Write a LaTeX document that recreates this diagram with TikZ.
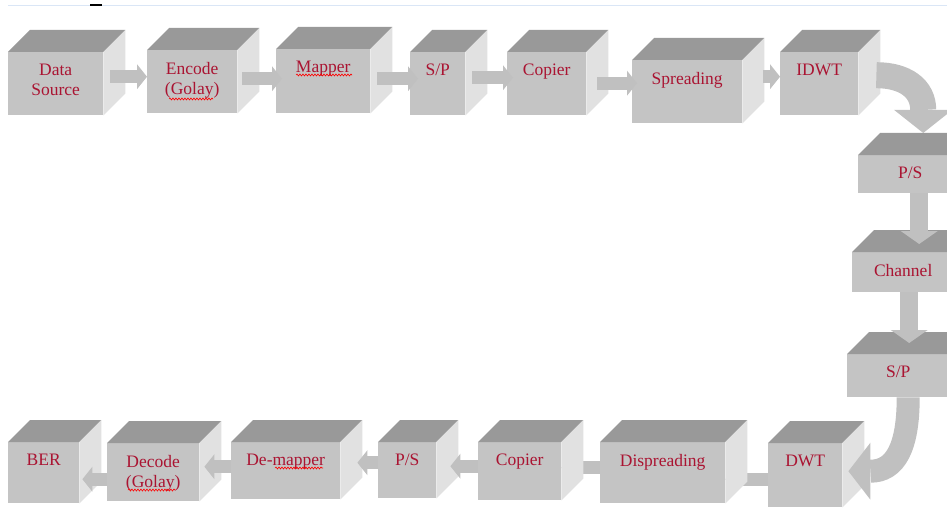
\documentclass[tikz,border=0pt]{standalone}
\usepackage{fontspec}
\setmainfont{Liberation Serif}
\usetikzlibrary{arrows.meta}
\usetikzlibrary{calc}
\usetikzlibrary{backgrounds}
\usetikzlibrary{decorations.pathmorphing}

\definecolor{frontgray}{RGB}{196,196,196}
\definecolor{topgray}{RGB}{153,153,153}
\definecolor{sidegray}{RGB}{225,225,225}
\definecolor{arrowgray}{RGB}{192,192,192}
\definecolor{txtred}{RGB}{170,20,50}
\definecolor{rulerblue}{RGB}{218,230,246}

\tikzset{
  cube/.style={fill=frontgray, anchor=north west, inner sep=0pt},
  toptxt/.style={anchor=north, inner sep=0pt, align=center, text=txtred,
    font=\fontsize{17.5}{20}\selectfont},
  flow/.style={draw=arrowgray, line width=13pt,
    -{Triangle[width=25pt,length=10pt,line width=0pt]}},
  vflow/.style={draw=arrowgray, line width=18pt,
    -{Triangle[width=37pt,length=13pt,line width=0pt]}},
  bigflow/.style={draw=arrowgray, line width=26pt,
    -{Triangle[width=58pt,length=23pt,line width=0pt]}},
  bendflow/.style={draw=arrowgray, line width=23pt,
    -{Triangle[width=57pt,length=22pt,line width=0pt]}},
  squiggle/.style={red, line width=0.6pt, decorate,
    decoration={snake, amplitude=1pt, segment length=3pt}}
}

\begin{document}
\begin{tikzpicture}[x=1pt, y=-1pt]
    \useasboundingbox (0,0) rectangle (947,508);
    % ruler line at the top of the page
    \draw [rulerblue, line width=1pt] (8,6) -- (947,6);
    \draw [line width=1.2pt] (90,5) -- (102,5);

    % every block: front face, then lid and side so it looks 3d
    \foreach \n/\x/\y/\w/\h/\txt in {
        ds/8/52/95/63/{Data\\Source},
        enc/147/50/90/63/{Encode\\(Golay)},
        map/276/49/94/64/{Mapper},
        sp1/410/52/55/63/{S/P},
        cop1/507/52/79/63/{Copier},
        spr/632/60/110/63/{Spreading},
        idwt/780/52/78/63/{IDWT},
        ps1/858/155/104/38/{P/S},
        chan/852/252/102/40/{Channel},
        sp2/847/354/102/43/{S/P},
        dwt/768/443/74/64/{DWT},
        dsp/600/442/125/61/{Dispreading},
        cop2/478/442/83/58/{Copier},
        ps2/378/442/58/56/{P/S},
        dmap/231/442/109/57/{De-mapper},
        dec/107/443/92/58/{Decode\\(Golay)},
        ber/8/442/71/61/{BER}}
    {
        \node [cube, minimum width=\w pt, minimum height=\h pt] (\n) at (\x,\y) {};
        \fill [topgray] (\n.north west) -- ++(22pt,22pt)
            -- ($(\n.north east)+(22pt,22pt)$) -- (\n.north east) -- cycle;
        \fill [sidegray] (\n.north east) -- ++(22pt,22pt)
            -- ($(\n.south east)+(22pt,22pt)$) -- (\n.south east) -- cycle;
        \node [toptxt] (\n-txt) at ([yshift=-12pt]\n.north) {\txt};
    }

    % spell check marks under some words
    \draw [squiggle] (169,99) -- (213,99);
    \draw [squiggle] (296,75) -- (352,75);
    \draw [squiggle] (275,468) -- (323,468);
    \draw [squiggle] (128,490) -- (175,490);

    % top row, left to right
    \foreach \a/\b/\dy/\sx/\tx in {ds/enc/7/7/0, enc/map/3/5/6, map/sp1/2.5/7/8,
        sp1/cop1/6/7/6, cop1/spr/0.5/11/5, spr/idwt/15/21/0}
        \draw [flow] ($(\a.east)+(\sx pt,\dy pt)$) -- ($(\a.east -| \b.west)+(\tx pt,\dy pt)$);

    % round the corner and down the right side
    \draw [bigflow] ($(idwt.east)+(18pt,8.5pt)$)
        .. controls +(28pt,0pt) and +(0pt,45pt) .. ($(ps1.north)+(13pt,22pt)$);
    \draw [vflow] ($(ps1.south)+(9pt,0pt)$) -- ($(chan.north -| ps1.south)+(9pt,8pt)$);
    \draw [vflow] ($(chan.south)+(6pt,0pt)$) -- ($(sp2.north -| chan.south)+(6pt,11pt)$);
    \draw [bendflow] ($(sp2.south)+(10pt,0pt)$)
        .. controls +(0pt,-50pt) and +(47pt,0pt) .. ($(dwt.east)+(6pt,4pt)$);

    % bottom row, right to left
    \foreach \a/\b/\dy/\tx in {cop2/ps2/5/14, ps2/dmap/7.5/17, dmap/dec/4/5, dec/ber/-7/3}
        \draw [flow] ($(\a.west)+(0pt,\dy pt)$) -- ($(\a.west -| \b.east)+(\tx pt,\dy pt)$);
    % these two run behind the blocks, heads hidden
    \begin{scope}[on background layer]
        \foreach \a/\b/\dy in {dwt/dsp/-4, dsp/cop2/5}
            \draw [flow] ($(\a.west)+(0pt,\dy pt)$) -- ($(\a.west -| \b.east)+(0pt,\dy pt)$);
    \end{scope}
\end{tikzpicture}
\end{document}
